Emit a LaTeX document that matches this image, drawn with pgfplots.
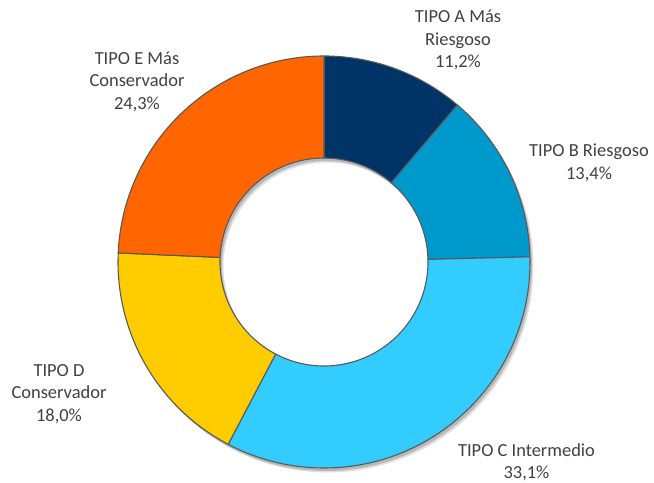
\documentclass[border=0pt]{standalone}
\usepackage{pgfplots}
\usepackage{pgfplotstable}
\pgfplotsset{compat=1.18}
\usepackage{fontspec}
\setmainfont{Carlito}
\definecolor{colA}{HTML}{003366}
\definecolor{colB}{HTML}{0099CC}
\definecolor{colC}{HTML}{33CCFF}
\definecolor{colD}{HTML}{FFCC00}
\definecolor{colE}{HTML}{FF6600}
\definecolor{bord}{HTML}{595959}
\definecolor{txt}{HTML}{404040}
\pgfplotstableread{
v c
11.2 colA
13.4 colB
33.1 colC
18.0 colD
24.3 colE
}\data
\begin{document}
\begin{tikzpicture}
\begin{axis}[
  width=654bp, height=483bp, scale only axis,
  xmin=0, xmax=654, ymin=0, ymax=483,
  hide axis, clip=false,
]
\path (axis cs:0,0) rectangle (axis cs:654,483);
\coordinate (O) at (axis cs:324,221);
\coordinate (S1) at (axis cs:326,218);
\coordinate (S2) at (axis cs:327.5,216.5);
\fill[black, opacity=0.12, even odd rule] (S2) circle[radius=206bp] (S2) circle[radius=104bp];
\fill[black, opacity=0.18, even odd rule] (S1) circle[radius=206bp] (S1) circle[radius=104bp];
\gdef\acc{90}
\pgfplotsforeachungrouped \i in {0,...,4}{%
  \pgfplotstablegetelem{\i}{v}\of\data \let\vv\pgfplotsretval
  \pgfplotstablegetelem{\i}{c}\of\data \let\cc\pgfplotsretval
  \pgfmathsetmacro\ee{\acc-3.6*\vv}%
  \edef\temp{\noexpand\filldraw[fill=\cc, draw=bord, line width=1.1bp, line join=round]
    ([shift={(\acc:206bp)}]O) arc[start angle=\acc, end angle=\ee, radius=206bp]
    -- ([shift={(\ee:104bp)}]O) arc[start angle=\ee, end angle=\acc, radius=104bp] -- cycle;}%
  \temp
  \xdef\acc{\ee}%
}
\tikzset{lab/.style={align=center, text=txt, font=\fontsize{18.5}{22.5}\selectfont, inner sep=0pt}}
\node[lab] at (axis cs:458,443) {TIPO A Más\\Riesgoso\\11,2\%};
\node[lab] at (axis cs:589,320) {TIPO B Riesgoso\\13,4\%};
\node[lab] at (axis cs:526.5,21) {TIPO C Intermedio\\33,1\%};
\node[lab] at (axis cs:59,89) {TIPO D\\Conservador\\18,0\%};
\node[lab] at (axis cs:137,401.5) {TIPO E Más\\Conservador\\24,3\%};
\end{axis}
\end{tikzpicture}
\end{document}
